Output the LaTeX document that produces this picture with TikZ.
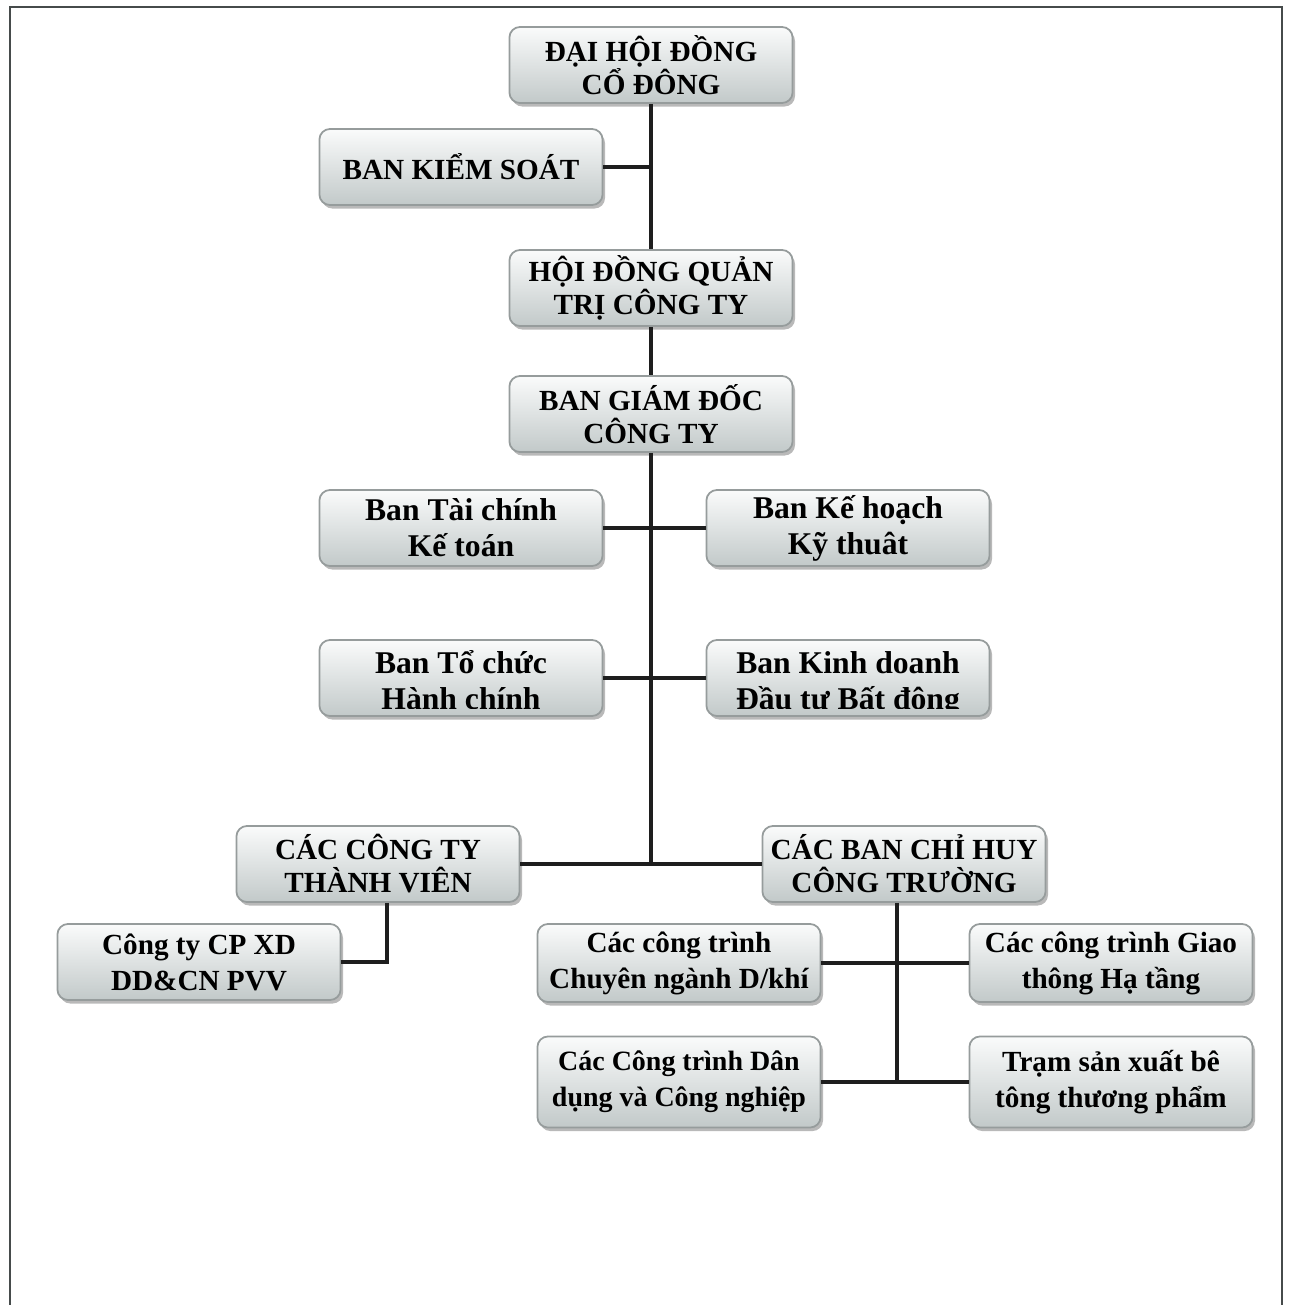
\documentclass[tikz,border=0pt]{standalone}
\usepackage{fontspec}
\setmainfont{Liberation Serif}
\usetikzlibrary{shadows}
\definecolor{boxtop}{RGB}{250,251,251}
\definecolor{boxbot}{RGB}{194,201,201}
\definecolor{boxline}{RGB}{150,156,156}
\definecolor{connc}{RGB}{30,30,30}
\definecolor{framec}{RGB}{70,75,75}
\tikzset{
  orgbox/.style={rectangle, rounded corners=3pt, draw=boxline, line width=0.5pt,
    top color=boxtop, bottom color=boxbot, minimum width=2.83cm, minimum height=0.76cm,
    align=center, inner sep=0pt, font=\fontsize{8.3}{9.4}\selectfont\bfseries,
    drop shadow={shadow xshift=0.7pt, shadow yshift=-1pt, fill=black!50, opacity=0.55}},
  lowbox/.style={orgbox, font=\fontsize{8.3}{10.2}\selectfont\bfseries},
  banbox/.style={orgbox, font=\fontsize{9}{10.2}\selectfont\bfseries},
  cliptext/.style={align=center, inner sep=0pt, anchor=base, font=\fontsize{9}{10.2}\selectfont\bfseries},
  conn/.style={line width=1.4pt, draw=connc},
}
\begin{document}
\begin{tikzpicture}[x=0.01cm,y=-0.01cm]
\useasboundingbox (0,0) rectangle (1290,1305);
% frame
\draw[framec, line width=0.7pt] (10,1305) -- (10,7) -- (1282,7) -- (1282,1305);

\node[orgbox] (dh) at (651,65) {ĐẠI HỘI ĐỒNG\\CỔ ĐÔNG};
\node[orgbox] (bks) at (461,167) {BAN KIỂM SOÁT};
\node[orgbox] (hdqt) at (651,288) {HỘI ĐỒNG QUẢN\\TRỊ CÔNG TY};
\node[orgbox] (bgd) at (651,414) {BAN GIÁM ĐỐC\\CÔNG TY};
\node[banbox] (tckt) at (461,528) {Ban Tài chính\\Kế toán};
\node[banbox] (khkt) at (848,528) {Ban Kế hoạch\\Kỹ thuât};
\node[banbox] (tchc) at (461,678) {};
\node[banbox] (kd) at (848,678) {};
\begin{scope}
  \clip ([yshift=2.3pt]tchc.south west) rectangle (tchc.north east);
  \node[cliptext] (tchct) at ([yshift=-9pt]tchc.center) {Ban Tổ chức\\Hành chính};
\end{scope}
\begin{scope}
  \clip ([yshift=2.3pt]kd.south west) rectangle (kd.north east);
  \node[cliptext] (kdt) at ([yshift=-9pt]kd.center) {Ban Kinh doanh\\Đầu tư Bất động};
\end{scope}
\node[orgbox] (ctv) at (378,864) {CÁC CÔNG TY\\THÀNH VIÊN};
\node[orgbox] (bch) at (904,864) {CÁC BAN CHỈ HUY\\CÔNG TRƯỜNG};
\node[lowbox] (pvv) at (199,962) {Công ty CP XD\\DD\&CN PVV};
\node[lowbox, minimum height=0.78cm] (dk) at (679,963) {Các công trình\\Chuyên ngành D/khí};
\node[lowbox, minimum height=0.78cm] (gt) at (1111,963) {Các công trình Giao\\thông Hạ tầng};
\node[lowbox, minimum height=0.91cm, font=\fontsize{7.95}{10.2}\selectfont\bfseries] (ddcn) at (679,1082) {Các Công trình Dân\\dụng và Công nghiệp};
\node[lowbox, minimum height=0.91cm] (tram) at (1111,1082) {Trạm sản xuất bê\\tông thương phẩm};

% connectors
\draw[conn] (dh.south) -- (hdqt.north);
\draw[conn] (hdqt.south) -- (bgd.north);
\draw[conn] (bgd.south) -- (bgd.south |- ctv.east);
\draw[conn] (bks.east) -- (bks.east -| dh.south);
\draw[conn] (tckt.east) -- (khkt.west);
\draw[conn] (tchc.east) -- (kd.west);
\draw[conn] (ctv.east) -- (bch.west);
\draw[conn] ([xshift=0.09cm]ctv.south) |- (pvv.east);
\draw[conn] ([xshift=-0.07cm]bch.south) -- ([xshift=-0.07cm]bch.south |- ddcn.east);
\draw[conn] (dk.east) -- (gt.west);
\draw[conn] (ddcn.east) -- (tram.west);
\end{tikzpicture}
\end{document}
